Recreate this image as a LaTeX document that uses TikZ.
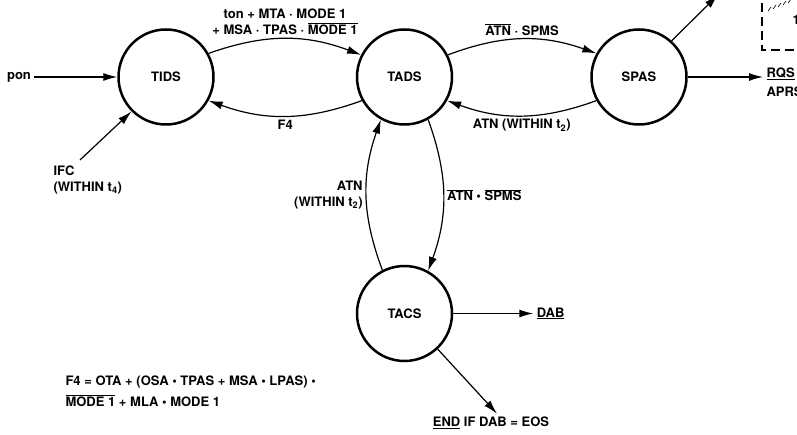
\documentclass[tikz,border=0pt]{standalone}
\usepackage{fontspec}
\setmainfont{TeX Gyre Heros}
\usetikzlibrary{positioning,arrows.meta}
\newcommand{\ovl}[1]{$\overline{\mbox{#1}}$}

\begin{document}
\begin{tikzpicture}[x=1pt, y=1pt,
    >={Latex[length=14pt,width=8pt]},
    every node/.style={font=\fontsize{13}{16}\selectfont\bfseries},
    state/.style={draw, circle, line width=2.5pt, minimum size=95pt, inner sep=0pt},
    arr/.style={->, line width=1.2pt}]
  \useasboundingbox (0,0) rectangle (797,434);

  \node[state] (tids) at (166,357) {TIDS};
  \node[state, right=141pt of tids] (tads) {TADS};
  \node[state, right=137pt of tads] (spas) {SPAS};
  \node[state, below=139pt of tads] (tacs) {TACS};

  % inputs to TIDS
  \node (pon) at (19,357) {pon};
  \draw[arr] (pon) -- (tids);
  \node[align=left, anchor=north west] (ifc) at (50,272) {IFC\\(WITHIN t\textsubscript{4})};
  \coordinate (ifc in) at (80,274);
  \draw[arr] (ifc in) -- (tids.225);

  % TIDS <-> TADS
  \draw[arr] (tids.29) to[bend left=20] node[above, align=center]
    {ton + MTA · MODE 1\\+ MSA · TPAS · \ovl{MODE 1}} (tads.153);
  \draw[arr] (tads.209) to[bend left=20] node[below] {F4} (tids.331);

  % TADS <-> SPAS
  \draw[arr] (tads.27) to[bend left=20] node[above] {\ovl{ATN} · SPMS} (spas.151);
  \draw[arr] (spas.209) to[bend left=20] node[below] {ATN (WITHIN t\textsubscript{2})} (tads.331);

  % TADS <-> TACS
  \draw[arr] (tads.299) to[bend left=20] node[right] {\ovl{ATN} • \ovl{SPMS}} (tacs.61);
  \draw[arr] (tacs.117) to[bend left=20] node[left, align=right]
    {ATN\\(WITHIN t\textsubscript{2})} (tads.241);

  % SPAS outputs
  \coordinate (spas out) at (718,439);
  \draw[arr] (spas.48) -- (spas out);
  \node[anchor=west, align=left] (rqs) at (763,352) {\underline{RQS}\\[3pt]APRS};
  \draw[arr] (spas.east) -- (spas.east -| rqs.west);
  \draw[dashed, line width=1.1pt, dash pattern=on 9pt off 5pt] (762,445) |- (810,384);
  \foreach \i in {0,...,4}
    \draw[line width=0.6pt] (768+5*\i,423+2*\i) -- ++(3,4);
  \node[anchor=west] (cut) at (789,414) {1};

  % TACS outputs
  \node[right=80pt of tacs] (dab) {\underline{DAB}};
  \draw[arr] (tacs.east) -- (dab.west);
  \node (eos) at (491,11) {\underline{END} IF DAB = EOS};
  \draw[arr] (tacs.313) -- ([xshift=6pt]eos.north);

  \node[align=left, anchor=north west] (f4) at (62,62)
    {F4 = OTA + (OSA • TPAS + MSA • LPAS) •\\[5pt]\ovl{MODE 1} + MLA • MODE 1};
\end{tikzpicture}
\end{document}
